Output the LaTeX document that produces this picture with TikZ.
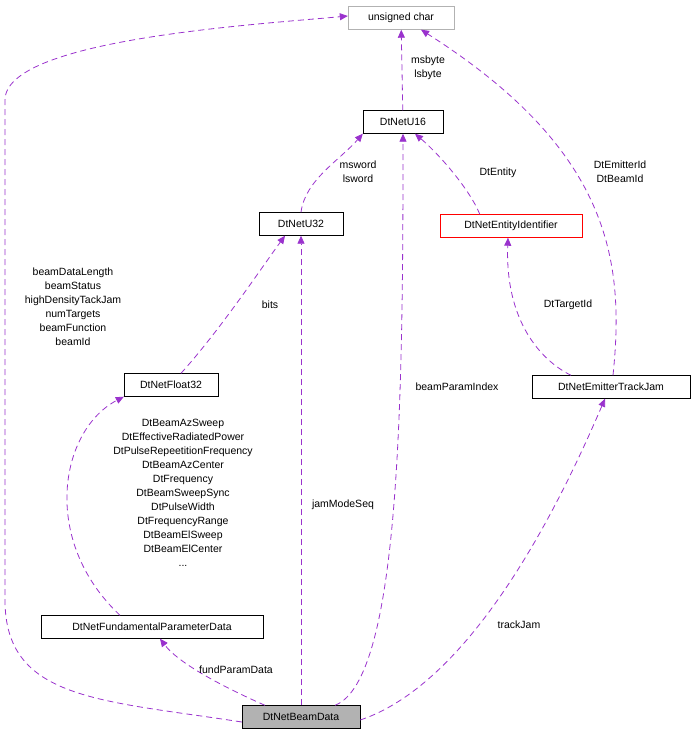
\documentclass[tikz,border=0pt]{standalone}
\usepackage{fontspec}
\setmainfont{Liberation Sans}
\usetikzlibrary{arrows.meta}
\definecolor{edgepurple}{RGB}{154,50,205}
\tikzset{
  cls/.style = {draw=black, fill=white, inner sep=0pt, minimum height=23pt,
                font=\fontsize{10.5}{12}\selectfont},
  dep/.style = {color=edgepurple, dash pattern=on 6pt off 4pt, line width=0.8pt,
                -{Triangle[length=8pt,width=7pt,fill=edgepurple]}},
  lbl/.style = {align=center, font=\fontsize{10.5}{14}\selectfont}
}
\begin{document}
\begin{tikzpicture}[x=1pt,y=-1pt]
	\useasboundingbox (0,0) rectangle (696,736);

	% Classes
	\node[cls, draw=black!30, minimum width=106pt] (uchar) at (401,18) {unsigned char};
	\node[cls, minimum width=80pt]  (u16)    at (403,122) {DtNetU16};
	\node[cls, minimum width=84pt]  (u32)    at (301,224) {DtNetU32};
	\node[cls, draw=red, minimum width=142pt] (entid) at (511,226) {DtNetEntityIdentifier};
	\node[cls, minimum width=94pt]  (f32)    at (171,385) {DtNetFloat32};
	\node[cls, minimum width=158pt] (emitter) at (611,387) {DtNetEmitterTrackJam};
	\node[cls, minimum width=222pt] (fund)   at (152,627) {DtNetFundamentalParameterData};
	\node[cls, fill=black!30, minimum width=118pt] (beam) at (301,717) {DtNetBeamData};

	% Edges
	\draw[dep] (u16) -- (uchar);
	\node[lbl] (l1) at (428,68) {msbyte\\lsbyte};

	\draw[dep] (u32.north) .. controls (305,180) and (340,160) .. (u16.south west);
	\node[lbl] (l2) at (358,172) {msword\\lsword};

	\draw[dep] (entid.north west) ++(40,0) .. controls (470,190) and (440,155) .. ([xshift=12pt]u16.south);
	\node[lbl] (l3) at (498,173) {DtEntity};

	\draw[dep] ([xshift=10pt]f32.north) .. controls (220,330) and (260,270) .. ([xshift=-16pt]u32.south);
	\node[lbl] (l4) at (270,305) {bits};

	\draw[dep] ([xshift=2pt]emitter.north) .. controls (625,260) and (610,150) .. ([xshift=20pt]uchar.south);
	\node[lbl] (l5) at (620,172) {DtEmitterId\\DtBeamId};

	\draw[dep] ([xshift=-40pt]emitter.north) .. controls (540,360) and (505,320) .. ([xshift=-3pt]entid.south);
	\node[lbl] (l6) at (568,305) {DtTargetId};

	\draw[dep] ([xshift=-32pt]fund.north) .. controls (40,540) and (60,430) .. (f32.south west);
	\node[lbl] (l7) at (183,493) {DtBeamAzSweep\\DtEffectiveRadiatedPower\\DtPulseRepeetitionFrequency\\DtBeamAzCenter\\DtFrequency\\DtBeamSweepSync\\DtPulseWidth\\DtFrequencyRange\\DtBeamElSweep\\DtBeamElCenter\\...};

	\draw[dep] (beam.north) -- (u32.south);
	\node[lbl] (l8) at (343,505) {jamModeSeq};

	\draw[dep] ([xshift=34pt]beam.north) .. controls (400,680) and (403,400) .. (u16.south);
	\node[lbl] (l9) at (457,387) {beamParamIndex};

	\draw[dep] ([yshift=-5pt]beam.west) .. controls (100,700) and (5,700) .. (5,600)
	  -- (5,100) .. controls (5,40) and (250,25) .. ([yshift=2pt]uchar.west);
	\node[lbl] (l10) at (73,307) {beamDataLength\\beamStatus\\highDensityTackJam\\numTargets\\beamFunction\\beamId};

	\draw[dep] ([xshift=-36pt]beam.north) .. controls (230,690) and (180,665) .. ([xshift=8pt]fund.south);
	\node[lbl] (l11) at (236,670) {fundParamData};

	\draw[dep] ([yshift=-3pt]beam.east) .. controls (480,680) and (570,480) .. ([xshift=-6pt]emitter.south);
	\node[lbl] (l12) at (519,625) {trackJam};
\end{tikzpicture}
\end{document}
